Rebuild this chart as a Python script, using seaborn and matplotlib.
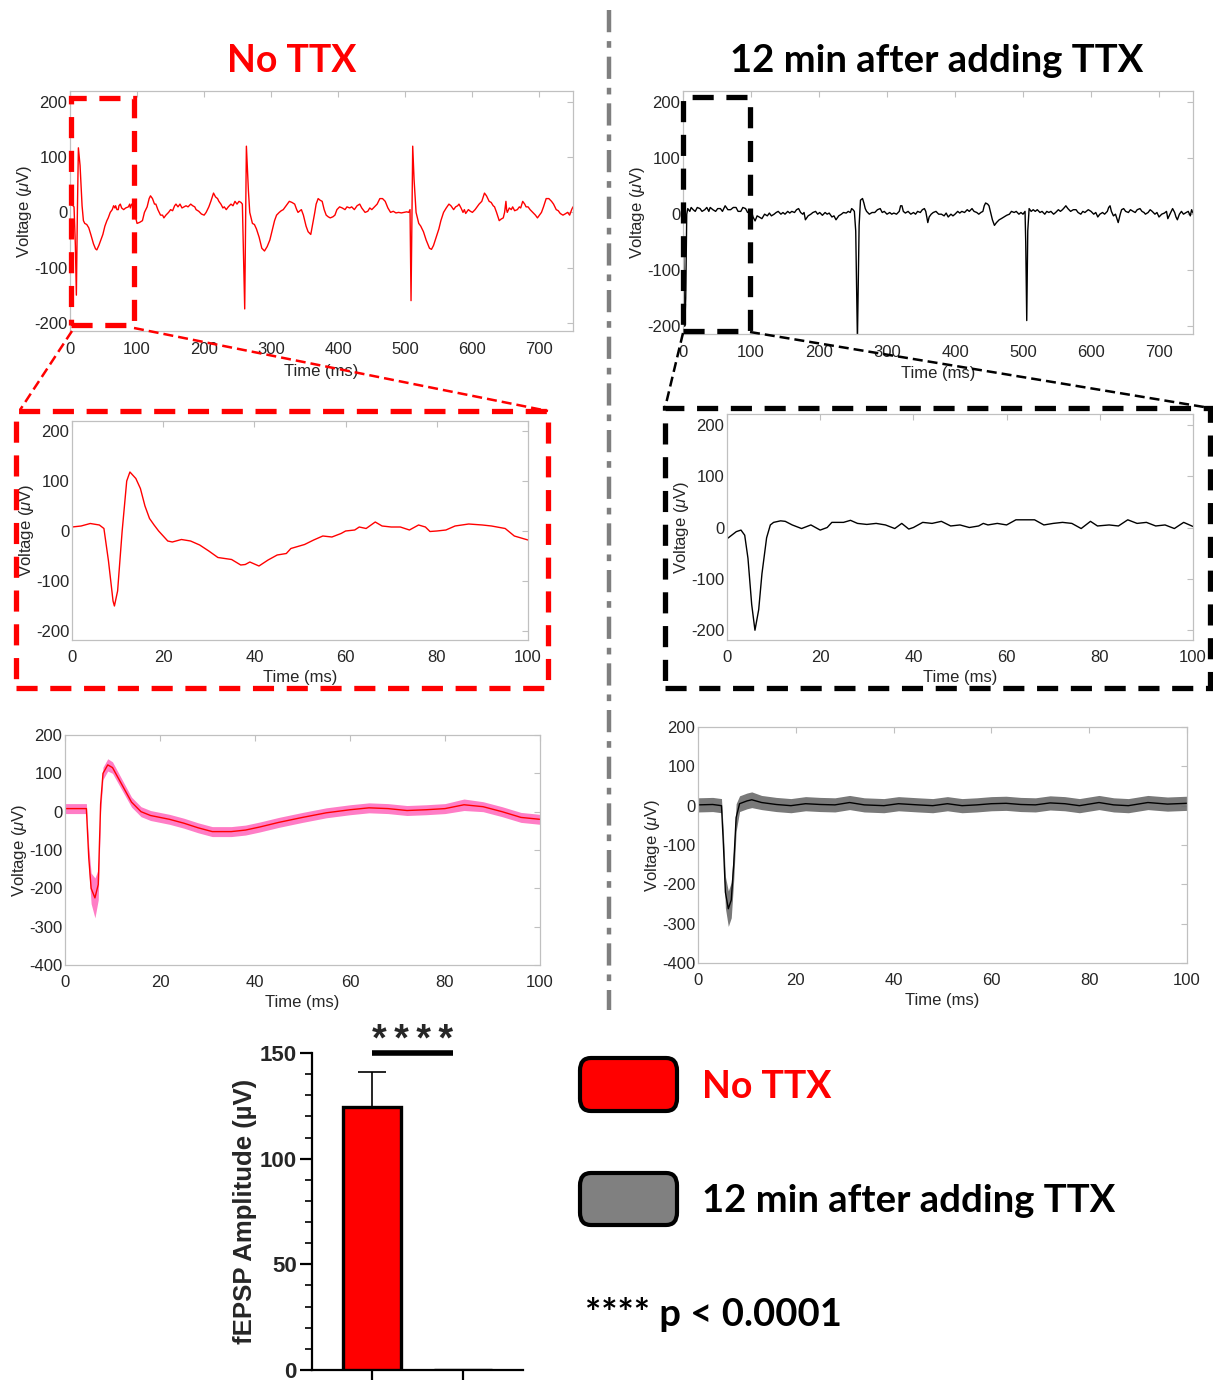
import numpy as np
import pandas as pd
import matplotlib
matplotlib.use('Agg')
import matplotlib.pyplot as plt
import seaborn as sns
from matplotlib.patches import Rectangle, FancyBboxPatch
from matplotlib.lines import Line2D

# ---- data ----
# single 750 ms sweeps, (time ms, voltage uV)
sweep_ctrl = [(0, 12), (3, 14), (6, 10), (8, -60), (9.5, -150), (11, 0), (12.5, 117), (15, 85), (18, 12),
              (20, -15), (22, -20), (25, -22), (28, -28), (31, -40), (35, -57), (38, -66), (40, -68), (43, -60),
              (46, -50), (49, -40), (52, -25), (55, -15), (57, -10), (60, 0), (63, 5), (65, 12), (67, 8),
              (68, 12), (70, 5), (72, 5), (73, 12), (75, 15), (77, 8), (80, 5), (83, 8), (87, 10), (89, 15),
              (90, 8), (92, 15), (94, 12), (95, 5), (97, -5), (100, -20), (104, -18), (108, -15), (111, 0),
              (115, 10), (118, 25), (120, 30), (123, 25), (126, 15), (128, 15), (131, 5), (135, -5), (138, -5),
              (140, -10), (143, -5), (147, 0), (150, 5), (153, 3), (156, 12), (158, 15), (161, 10), (164, 15),
              (167, 8), (170, 10), (173, 12), (176, 10), (180, 15), (183, 12), (186, 10), (188, 5), (192, 2),
              (196, -3), (200, -5), (203, 0), (207, 10), (210, 20), (214, 35), (217, 28), (220, 25), (222, 20),
              (225, 15), (228, 8), (230, 10), (233, 5), (236, 10), (240, 15), (243, 12), (246, 20), (249, 15),
              (252, 20), (255, 18), (257, 15), (260.5, -175), (263, 120), (266, 40), (268, 0), (272, -20),
              (275, -22), (278, -30), (282, -45), (286, -65), (290, -70), (294, -62), (298, -50), (302, -30),
              (305, -15), (308, -5), (312, 0), (315, 3), (318, 5), (321, 10), (324, 15), (327, 20), (331, 18),
              (335, 15), (338, 5), (340, 0), (343, 3), (345, 5), (348, -5), (352, -25), (355, -35), (359, -40),
              (362, -20), (365, 0), (367, 15), (370, 25), (373, 22), (376, 20), (379, 5), (382, -5), (385, -8),
              (388, -10), (392, -8), (395, -5), (398, 5), (402, 10), (406, 8), (410, 5), (413, 10), (417, 8),
              (420, 10), (424, 5), (428, 12), (432, 15), (435, 8), (438, 3), (440, 0), (444, 2), (447, 8),
              (450, 5), (454, 10), (458, 15), (462, 25), (466, 25), (470, 20), (474, 8), (478, 0), (482, 2),
              (486, -1), (490, 0), (494, -1), (498, 0), (502, 1), (505, 0), (507, 5), (508.5, -160), (511, 120),
              (513, 60), (516, 0), (520, -20), (523, -25), (527, -35), (531, -50), (536, -65), (539, -67),
              (542, -60), (546, -45), (550, -30), (553, -15), (557, 0), (561, 8), (565, 15), (568, 12), (572, 5),
              (575, 10), (578, 12), (580, 15), (583, 8), (586, 0), (588, 5), (590, -2), (594, 5), (597, 2),
              (600, 0), (604, 5), (607, 10), (610, 15), (614, 20), (618, 35), (621, 30), (625, 20), (628, 18),
              (631, 12), (633, 10), (636, 0), (640, -15), (643, -12), (646, -10), (648, 0), (650, 20), (651, 5),
              (652, 0), (655, 8), (658, 5), (660, 10), (663, 3), (667, 5), (670, 10), (672, 8), (675, 20),
              (678, 15), (680, 10), (683, 10), (686, 5), (690, 0), (694, -5), (697, -10), (700, -5), (703, 0),
              (706, 10), (710, 25), (714, 25), (718, 20), (721, 15), (725, 5), (728, 3), (731, -2), (735, -5),
              (738, -3), (742, 0), (745, -5), (748, 5), (750, 10)]

sweep_ttx = [(0, -10), (1, -60), (2.5, -200), (4, -150), (5.5, 0), (7, 10), (10, 5), (12, 12), (15, 8), (18, 5),
             (21, 12), (25, 10), (28, 5), (32, 8), (35, 12), (38, 5), (40, 12), (44, 8), (48, 5), (51, 10),
             (55, 10), (58, 5), (62, 15), (66, 8), (70, 8), (74, 12), (78, 12), (81, 5), (85, 5), (88, 12),
             (92, 10), (95, 3), (98, 5), (100, 8), (103, -5), (106, -12), (109, -3), (112, -5), (116, -8),
             (120, 0), (124, -3), (127, 2), (130, -3), (134, 0), (137, 3), (140, 5), (144, 0), (147, 3), (150, 0),
             (154, 5), (157, 2), (160, 5), (164, 3), (167, 8), (170, 10), (173, 3), (176, 0), (178, 3),
             (180, -10), (184, -3), (188, 0), (191, 3), (195, 5), (198, 0), (201, 3), (205, -2), (209, 3),
             (212, 0), (215, 2), (219, -5), (222, -3), (225, -10), (229, -3), (233, 0), (236, 3), (240, 2),
             (243, 5), (246, 3), (248, 10), (250, 8), (252, 5), (254, -30), (256.5, -225), (259, -20), (261, 25),
             (264, 28), (266, 20), (268, 10), (270, 5), (274, 0), (278, 3), (282, 3), (286, 8), (290, 10),
             (293, 3), (296, 5), (300, 0), (304, 3), (307, 0), (310, 2), (314, 0), (318, 5), (320, 15),
             (322, 15), (324, 5), (327, 2), (331, 5), (335, 0), (339, 3), (342, 0), (345, 5), (349, 3), (352, 8),
             (355, 10), (357, 5), (360, -15), (362, -5), (365, 0), (368, 3), (372, 5), (376, 0), (380, 0),
             (384, -3), (387, 2), (390, -5), (394, 0), (397, -3), (400, 0), (404, 5), (407, 2), (410, 5),
             (414, 3), (418, 8), (421, 5), (425, 10), (428, 5), (432, 3), (435, 0), (438, 3), (441, 5),
             (443, 15), (445, 20), (448, 18), (450, 15), (453, 0), (455, -10), (458, -20), (461, -15),
             (465, -10), (468, -8), (472, -5), (476, -2), (480, 0), (483, 5), (487, 3), (490, 5), (494, 0),
             (497, 3), (500, 0), (503, 5), (504, -50), (505.5, -190), (507, -30), (509, 10), (512, 5), (515, 8),
             (518, 5), (521, 8), (525, 3), (528, 5), (532, 0), (535, 5), (538, 3), (541, 5), (545, 0), (548, 3),
             (552, 8), (555, 5), (558, 8), (561, 12), (563, 15), (566, 10), (570, 5), (574, 8), (578, 8),
             (581, 3), (585, 0), (588, 5), (591, 3), (593, 5), (596, 8), (600, 5), (604, 0), (607, 3),
             (610, -5), (613, 0), (617, 3), (620, 0), (624, 5), (626, 12), (628, 15), (630, 5), (633, -3),
             (636, 0), (640, -15), (643, 0), (645, 8), (648, 10), (651, 5), (655, 3), (658, 8), (662, 5),
             (665, 3), (668, 8), (672, 10), (675, 5), (678, 3), (680, 0), (684, 3), (687, 8), (690, 5), (694, 0),
             (697, 3), (700, -5), (704, 0), (708, 2), (711, 5), (713, -8), (716, 0), (718, 5), (720, 10),
             (723, 3), (725, -5), (727, -10), (730, 0), (733, 5), (736, 0), (740, 3), (743, 5), (746, -3),
             (748, 8), (750, 2)]

# first 100 ms, enlarged
zoom_t_ctrl = [0, 2, 4, 6, 7, 8, 9, 9.3, 10, 11, 12, 12.7, 14, 15, 16, 17, 18, 19, 20, 21, 22, 24, 26, 28, 30, 32,
               35, 37, 38, 39, 41, 43, 45, 47, 48, 51, 53, 55, 57, 59, 60, 62, 63, 64.5, 66.5, 68, 70, 72, 74, 76,
               77.5, 78.5, 80, 82, 84, 87, 90, 92, 95, 97, 100]
zoom_v_ctrl = [8, 10, 15, 12, 5, -60, -140, -150, -120, 0, 100, 118, 105, 85, 50, 25, 12, 0, -10, -20, -22, -17,
               -20, -28, -40, -53, -57, -68, -67, -62, -70, -58, -48, -45, -35, -27, -18, -10, -12, -5, 0, 2, 8,
               5, 18, 10, 8, 8, 2, 12, 8, -1, 0, 2, 10, 14, 12, 10, 5, -10, -18]

zoom_t_ttx = [0, 1, 2, 3, 3.8, 4.5, 5.3, 6, 6.8, 7.5, 8.5, 9.3, 10, 11.5, 12.5, 14, 16, 18, 20, 21.5, 22.5, 25,
              26.5, 28, 30, 32, 34, 36, 37.5, 39, 40, 42, 44, 46, 48, 50, 52, 54, 55, 56, 58, 60, 62, 66, 68, 70,
              72, 74, 76, 78, 79.5, 82, 84, 86, 88, 90, 92, 94, 96, 98, 100]
zoom_v_ttx = [-22, -15, -8, -5, -15, -60, -150, -200, -160, -90, -20, 5, 10, 13, 12, 5, -2, 5, -5, 0, 10, 10,
              14, 8, 6, 8, 5, -2, 8, -3, 0, 10, 8, 12, 3, 5, 0, 3, 8, 5, 8, 5, 15, 15, 5, 8,
              10, 8, -2, 12, 3, 5, 3, 15, 8, 10, 3, 5, -2, 10, 2]

# averaged responses (mean +/- SEM)
avg_t_ctrl = [0, 2, 4.5, 5.0, 5.5, 6.3, 7.0, 7.5, 8, 9, 10, 12, 14, 16, 18, 20, 22, 25, 28, 31, 35, 38, 41, 45,
              50, 55, 60, 64, 68, 72, 76, 80, 84, 88, 92, 96, 100]
avg_v_ctrl = [8, 8, 8, -120, -200, -225, -190, 20, 100, 122, 115, 70, 25, 0, -10, -15, -20, -30, -42, -52, -52,
              -48, -40, -28, -15, -3, 5, 10, 8, 3, 5, 8, 18, 13, 0, -15, -20]
avg_sem_ctrl = [13, 13, 13, 30, 40, 52, 40, 20, 16, 16, 15, 14, 13, 13, 13, 13, 13, 13, 13, 13, 13, 13, 13, 13,
                13, 13, 13, 13, 13, 13, 13, 13, 15, 13, 13, 13, 13]

avg_t_ttx = [0, 3, 4.8, 5.2, 5.6, 6.2, 6.8, 7.3, 7.8, 8.5, 10, 11, 13, 16, 19, 22, 25, 28, 31, 34, 38, 41, 45, 48,
             51, 54, 57, 60, 63, 66, 69, 72, 75, 78, 82, 85, 88, 92, 96, 100]
avg_v_ttx = [2, 3, 0, -100, -220, -262, -240, -150, -30, 5, 12, 15, 8, 3, 0, 5, 3, 2, 8, 2, 0, 5, 2, 0,
             5, 0, 2, 5, 6, 3, 2, 7, 5, 0, 8, 2, 0, 8, 4, 6]
avg_sem_ttx = [18, 18, 18, 30, 40, 45, 45, 40, 35, 20, 20, 20, 18, 18, 18, 18, 18, 18, 18, 18, 18, 18, 18, 18,
               18, 18, 18, 18, 18, 18, 18, 18, 18, 18, 18, 18, 18, 18, 18, 18]

# summary bar chart
conditions = ['No TTX', '12 min after adding TTX']
amplitudes = [124.5, 0.0]
amplitude_sem = [16.5, 0.0]

# ---- style ----
sns.set_theme(style='white')
plt.rcParams['font.family'] = ['Liberation Sans', 'DejaVu Sans']
plt.rcParams['mathtext.fontset'] = 'custom'
plt.rcParams['mathtext.rm'] = 'Liberation Sans'
plt.rcParams['mathtext.it'] = 'Liberation Sans:italic'
plt.rcParams['axes.unicode_minus'] = False

W, H = 1213, 1380
RED = '#ff0000'
fig = plt.figure(figsize=(W / 100, H / 100), dpi=100)


def px_rect(x0, y0, x1, y1):
    return [x0 / W, 1 - y1 / H, (x1 - x0) / W, (y1 - y0) / H]


def fx(x):
    return x / W


def fy(y):
    return 1 - y / H


def style_trace(ax, xticks, yticks, xlim, ylim, xpad, labelpad):
    ax.set_xlim(*xlim)
    ax.set_ylim(*ylim)
    ax.set_xticks(xticks)
    ax.set_yticks(yticks)
    for s in ax.spines.values():
        s.set_color('#c0c0c0')
        s.set_linewidth(0.9)
        s.set_visible(True)
    ax.tick_params(direction='in', top=True, right=True, length=4, width=0.8, color='#c0c0c0',
                   labelcolor='#262626', labelsize=12, pad=2)
    ax.tick_params(axis='x', pad=xpad)
    ax.set_xlabel('Time (ms)', fontsize=12, color='#262626', labelpad=labelpad)
    ax.set_ylabel('Voltage ($\\mu$V)', fontsize=12, color='#262626', labelpad=0)


def trace(ax, t, v, color):
    df = pd.DataFrame({'t': t, 'v': v})
    sns.lineplot(data=df, x='t', y='v', ax=ax, color=color, lw=1.0, sort=False, estimator=None)


def band(ax, t, v, sem, line_color, fill_color, alpha):
    df = pd.DataFrame({'t': t, 'v': v, 'sem': sem})
    ax.fill_between(df['t'], df['v'] - df['sem'], df['v'] + df['sem'], color=fill_color, alpha=alpha, lw=0)
    sns.lineplot(data=df, x='t', y='v', ax=ax, color=line_color, lw=1.0, sort=False, estimator=None)


ctrl_df = pd.DataFrame(sweep_ctrl, columns=['t', 'v'])
ttx_df = pd.DataFrame(sweep_ttx, columns=['t', 'v'])

# top row: full sweeps
ax_tl = fig.add_axes(px_rect(70, 91, 573, 331))
trace(ax_tl, ctrl_df['t'], ctrl_df['v'], RED)
style_trace(ax_tl, range(0, 701, 100), range(-200, 201, 100), (0, 750), (-215, 220), 8, 5)

ax_tr = fig.add_axes(px_rect(683, 91, 1193, 334))
trace(ax_tr, ttx_df['t'], ttx_df['v'], 'black')
style_trace(ax_tr, range(0, 701, 100), range(-200, 201, 100), (0, 750), (-214, 220), 8, 4)

# middle row: first 100 ms
ax_ml = fig.add_axes(px_rect(72, 421, 528, 640))
trace(ax_ml, zoom_t_ctrl, zoom_v_ctrl, RED)
style_trace(ax_ml, range(0, 101, 20), range(-200, 201, 100), (0, 100), (-218, 220), 7, 4)

ax_mr = fig.add_axes(px_rect(727, 414, 1193, 640))
trace(ax_mr, zoom_t_ttx, zoom_v_ttx, 'black')
style_trace(ax_mr, range(0, 101, 20), range(-200, 201, 100), (0, 100), (-219, 221), 7, 4)

# bottom row: averages
ax_bl = fig.add_axes(px_rect(65, 735, 540, 965))
band(ax_bl, avg_t_ctrl, avg_v_ctrl, avg_sem_ctrl, RED, '#ff5cb8', 0.8)
style_trace(ax_bl, range(0, 101, 20), range(-400, 201, 100), (0, 100), (-400, 200), 7, 4)

ax_br = fig.add_axes(px_rect(698, 727, 1187, 963))
band(ax_br, avg_t_ttx, avg_v_ttx, avg_sem_ttx, 'black', '#6a6a6a', 0.9)
style_trace(ax_br, range(0, 101, 20), range(-400, 201, 100), (0, 100), (-400, 200), 7, 4)

# zoom boxes on the sweeps
ax_tl.add_patch(Rectangle((2, -205), 93, 412, fill=False, ec=RED, lw=3.8, ls=(0, (4, 2.4)), clip_on=False,
                          zorder=5))
ax_tr.add_patch(Rectangle((0, -209), 98, 418, fill=False, ec='black', lw=3.8, ls=(0, (4, 2.4)), clip_on=False,
                          zorder=5))

fig.add_artist(Rectangle((fx(16), fy(688)), (548 - 16) / W, (688 - 411) / H, transform=fig.transFigure,
                         fill=False, ec=RED, lw=3.8, ls=(0, (4, 2.4))))
fig.add_artist(Rectangle((fx(665), fy(688)), (1210 - 665) / W, (688 - 408) / H, transform=fig.transFigure,
                         fill=False, ec='black', lw=3.8, ls=(0, (4, 2.4))))

for (x0, y0, x1, y1, c) in [(72, 331, 20, 410, RED), (134, 328, 548, 411, RED),
                            (683, 333, 665, 408, 'black'), (750, 332, 1210, 408, 'black')]:
    fig.add_artist(Line2D([fx(x0), fx(x1)], [fy(y0), fy(y1)], transform=fig.transFigure, color=c, lw=1.8,
                          ls=(0, (4, 2))))

# divider
fig.add_artist(Line2D([fx(609), fx(609)], [fy(10), fy(1010)], transform=fig.transFigure, color='#7f7f7f',
                      lw=3.2, ls=(0, (5, 2, 1.5, 2))))

# titles
title_font = ['Lato', 'DejaVu Sans']
fig.text(fx(292), fy(61), 'No TTX', color=RED, fontsize=27, fontweight='bold', family=title_font,
         ha='center', va='center')
fig.text(fx(937), fy(61), '12 min after adding TTX', color='black', fontsize=27.5, fontweight='bold',
         family=title_font, ha='center', va='center')

# bar chart
ax_bar = fig.add_axes(px_rect(312, 1053, 523, 1370))
bar_df = pd.DataFrame({'condition': conditions, 'amplitude': amplitudes, 'sem': amplitude_sem})
sns.barplot(data=bar_df, x='condition', y='amplitude', hue='condition', palette=[RED, '#808080'],
            order=conditions, width=0.64, saturation=1, edgecolor='black', linewidth=2.4, legend=False,
            ax=ax_bar, zorder=3)
ax_bar.errorbar(range(len(conditions)), bar_df['amplitude'],
                yerr=[np.zeros(len(conditions)), bar_df['sem']], fmt='none', ecolor='black', elinewidth=1.2,
                capsize=10, capthick=1.2, zorder=2)
ax_bar.set_xlim(-0.66, 1.66)
ax_bar.set_ylim(0, 150)
ax_bar.set_yticks([0, 50, 100, 150])
ax_bar.set_yticks(range(0, 151, 10), minor=True)
ax_bar.set_xticks([0, 1])
ax_bar.set_xticklabels([])
ax_bar.set_xlabel('')
ax_bar.set_ylabel('fEPSP Amplitude (µV)', fontsize=18.5, fontweight='bold', labelpad=2)
for s in ['top', 'right']:
    ax_bar.spines[s].set_visible(False)
for s in ['left', 'bottom']:
    ax_bar.spines[s].set_color('black')
    ax_bar.spines[s].set_linewidth(1.6)
ax_bar.tick_params(axis='y', which='major', direction='out', length=9, width=1.6, left=True,
                   labelsize=16, pad=2, color='black')
ax_bar.tick_params(axis='y', which='minor', direction='out', length=5, width=1.2, left=True, color='black')
ax_bar.tick_params(axis='x', which='major', direction='out', length=7, width=1.6, bottom=True, color='black')
for lab in ax_bar.get_yticklabels():
    lab.set_fontweight('bold')
ax_bar.plot([0, 0.89], [150, 150], color='black', lw=4, clip_on=False, solid_capstyle='butt')
ax_bar.text(0.45, 147, '*\u2009*\u2009*\u2009*', ha='center', va='bottom', fontsize=27, fontweight='bold',
            family=['Liberation Sans', 'DejaVu Sans'], clip_on=False)

# legend
fig.add_artist(FancyBboxPatch((fx(580), fy(1111)), (677 - 580) / W, (1111 - 1058) / H,
                              boxstyle='round,pad=0,rounding_size=0.009', transform=fig.transFigure,
                              fc=RED, ec='black', lw=3))
fig.add_artist(FancyBboxPatch((fx(580), fy(1225)), (677 - 580) / W, (1225 - 1173) / H,
                              boxstyle='round,pad=0,rounding_size=0.009', transform=fig.transFigure,
                              fc='#808080', ec='black', lw=3))
fig.text(fx(702), fy(1087), 'No TTX', color=RED, fontsize=27, fontweight='bold', family=title_font,
         ha='left', va='center')
fig.text(fx(702), fy(1201), '12 min after adding TTX', color='black', fontsize=27.5, fontweight='bold',
         family=title_font, ha='left', va='center')
fig.text(fx(585), fy(1315), '**** p < 0.0001', color='black', fontsize=27.5, fontweight='bold',
         family=title_font, ha='left', va='center')

fig.savefig('out.png', dpi=100)
